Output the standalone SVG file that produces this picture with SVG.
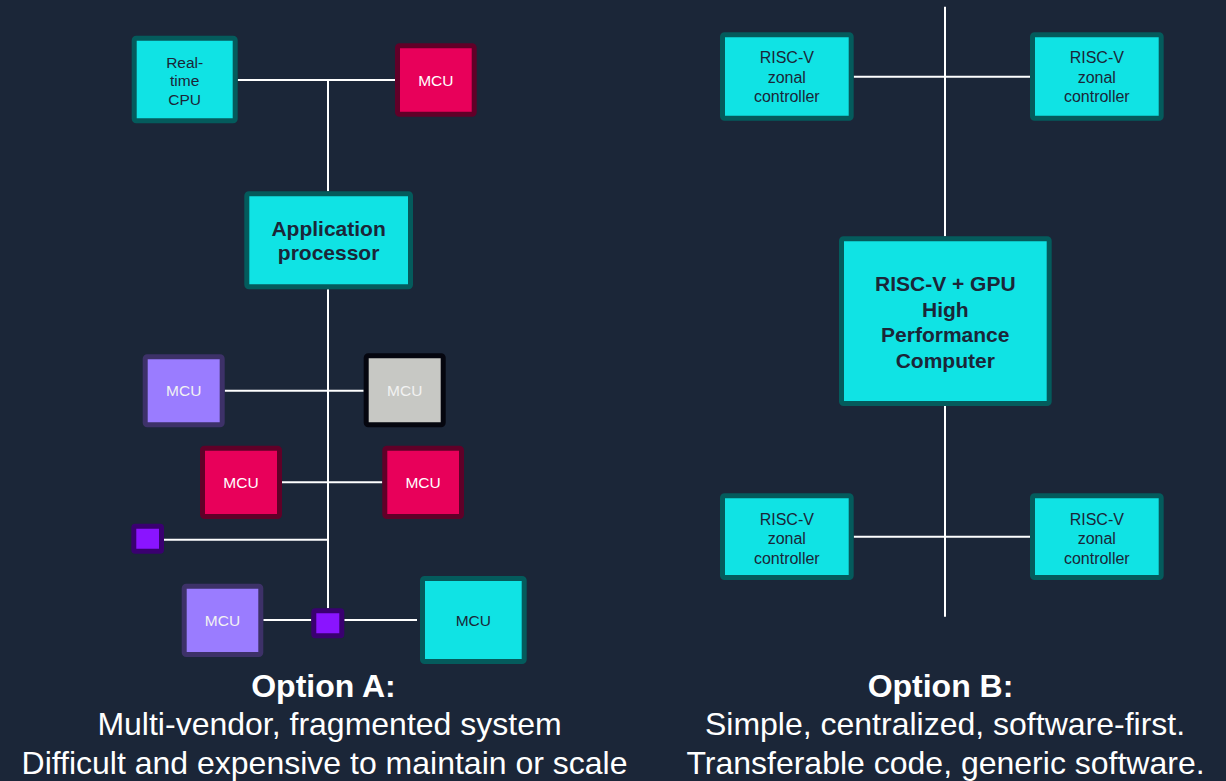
<svg xmlns="http://www.w3.org/2000/svg" width="1226" height="781" viewBox="0 0 1226 781">
  <style>
    .bg { fill: #1b2638; }
    .box { stroke-width: 5; }
    .teal { fill: #10e3e4; stroke: #045b5c; }
    .red { fill: #e8005a; stroke: #600028; }
    .lilac { fill: #9a7cff; stroke: #3d3168; }
    .grey { fill: #c7c8c4; stroke: #05060f; }
    .violet { fill: #8a14ff; stroke: #3a0070; }
    .wire { stroke: #ffffff; stroke-width: 2; fill: none; }
    .t { font-family: "Liberation Sans", Arial, sans-serif; text-anchor: middle; }
    .small { font-size: 15.5px; }
    .zone { font-size: 16px; fill: #1b2638; }
    .big { font-size: 21px; font-weight: bold; fill: #1b2638; }
    .dark { fill: #1b2638; }
    .light { fill: #ffffff; }
    .pale { fill: #f2f2f2; }
    .cap { font-size: 32px; fill: #ffffff; }
    .capb { font-size: 32px; font-weight: bold; fill: #ffffff; }
  </style>

  <rect class="bg" x="0" y="0" width="1226" height="781"/>

  <!-- bus wiring -->
  <g id="connectors">
    <!-- option A -->
    <line class="wire" x1="237.7" y1="80" x2="395" y2="80"/>
    <line class="wire" x1="328" y1="80" x2="328" y2="191.3"/>
    <line class="wire" x1="328" y1="289.3" x2="328" y2="608.3"/>
    <line class="wire" x1="224.7" y1="390.7" x2="363.7" y2="390.7"/>
    <line class="wire" x1="282" y1="482.3" x2="382.3" y2="482.3"/>
    <line class="wire" x1="164" y1="539.7" x2="328" y2="539.7"/>
    <line class="wire" x1="263.3" y1="620" x2="311.3" y2="620"/>
    <line class="wire" x1="344.3" y1="620" x2="417" y2="620"/>
    <!-- option B -->
    <line class="wire" x1="945" y1="6.7" x2="945" y2="236.3"/>
    <line class="wire" x1="945" y1="406" x2="945" y2="616.7"/>
    <line class="wire" x1="853.7" y1="76.7" x2="1030" y2="76.7"/>
    <line class="wire" x1="853.7" y1="536.7" x2="1030" y2="536.7"/>
  </g>

  <!-- option A nodes -->
  <g id="rt-cpu">
    <rect class="box teal" x="134.2" y="38.2" width="101" height="82.6" rx="2"/>
    <text class="t small dark" x="184.7" y="67.5">Real-</text>
    <text class="t small dark" x="184.7" y="86.1">time</text>
    <text class="t small dark" x="184.7" y="104.7">CPU</text>
  </g>
  <g id="mcu-top">
    <rect class="box red" x="397.5" y="45.8" width="76.7" height="68.4" rx="2"/>
    <text class="t small light" x="435.8" y="85.8">MCU</text>
  </g>
  <g id="app-processor">
    <rect class="box teal" x="246.8" y="193.8" width="163.7" height="93" rx="2"/>
    <text class="t big" x="328.6" y="235.5">Application</text>
    <text class="t big" x="328.6" y="260">processor</text>
  </g>
  <g id="mcu-lilac-1">
    <rect class="box lilac" x="145.2" y="356.8" width="77" height="68" rx="2"/>
    <text class="t small pale" x="183.7" y="396.3">MCU</text>
  </g>
  <g id="mcu-grey">
    <rect class="box grey" x="366.2" y="355.8" width="77" height="69" rx="2"/>
    <text class="t small pale" x="404.7" y="395.8">MCU</text>
  </g>
  <g id="mcu-red-left">
    <rect class="box red" x="202.5" y="448.2" width="77" height="68.3" rx="2"/>
    <text class="t small light" x="241" y="487.8">MCU</text>
  </g>
  <g id="mcu-red-right">
    <rect class="box red" x="384.8" y="448.2" width="76.7" height="68.3" rx="2"/>
    <text class="t small light" x="423.1" y="487.8">MCU</text>
  </g>
  <g id="chip-left">
    <rect class="box violet" x="133.8" y="526.2" width="27.7" height="25" rx="1.5"/>
  </g>
  <g id="mcu-lilac-2">
    <rect class="box lilac" x="184.2" y="586.2" width="76.6" height="68.3" rx="2"/>
    <text class="t small pale" x="222.5" y="625.8">MCU</text>
  </g>
  <g id="chip-bus">
    <rect class="box violet" x="313.8" y="610.8" width="28" height="25" rx="1.5"/>
  </g>
  <g id="mcu-teal">
    <rect class="box teal" x="422.5" y="578.5" width="101.7" height="83" rx="2"/>
    <text class="t small dark" x="473.3" y="625.5">MCU</text>
  </g>

  <!-- option B nodes -->
  <g id="zone-tl">
    <rect class="box teal" x="722.5" y="34.8" width="128.7" height="83.4" rx="2"/>
    <text class="t zone" x="786.8" y="63">RISC-V</text>
    <text class="t zone" x="786.8" y="82.5">zonal</text>
    <text class="t zone" x="786.8" y="102">controller</text>
  </g>
  <g id="zone-tr">
    <rect class="box teal" x="1032.5" y="34.8" width="128.7" height="83.4" rx="2"/>
    <text class="t zone" x="1096.8" y="63">RISC-V</text>
    <text class="t zone" x="1096.8" y="82.5">zonal</text>
    <text class="t zone" x="1096.8" y="102">controller</text>
  </g>
  <g id="hpc">
    <rect class="box teal" x="841.5" y="238.8" width="207.7" height="164.7" rx="2"/>
    <text class="t big" x="945.3" y="291">RISC-V + GPU</text>
    <text class="t big" x="945.3" y="316.5">High</text>
    <text class="t big" x="945.3" y="342">Performance</text>
    <text class="t big" x="945.3" y="367.5">Computer</text>
  </g>
  <g id="zone-bl">
    <rect class="box teal" x="722.5" y="495.8" width="128.7" height="81.7" rx="2"/>
    <text class="t zone" x="786.8" y="524.7">RISC-V</text>
    <text class="t zone" x="786.8" y="544.2">zonal</text>
    <text class="t zone" x="786.8" y="563.7">controller</text>
  </g>
  <g id="zone-br">
    <rect class="box teal" x="1032.5" y="495.8" width="128.7" height="81.7" rx="2"/>
    <text class="t zone" x="1096.8" y="524.7">RISC-V</text>
    <text class="t zone" x="1096.8" y="544.2">zonal</text>
    <text class="t zone" x="1096.8" y="563.7">controller</text>
  </g>

  <!-- captions -->
  <g id="caption-a">
    <text class="t capb" x="323.5" y="697">Option A:</text>
    <text class="t cap" x="329.5" y="735.4">Multi-vendor, fragmented system</text>
    <text class="t cap" x="324.5" y="773.8">Difficult and expensive to maintain or scale</text>
  </g>
  <g id="caption-b">
    <text class="t capb" x="940.5" y="697">Option B:</text>
    <text class="t cap" x="945" y="735.4">Simple, centralized, software-first.</text>
    <text class="t cap" x="945.5" y="773.8">Transferable code, generic software.</text>
  </g>
</svg>
